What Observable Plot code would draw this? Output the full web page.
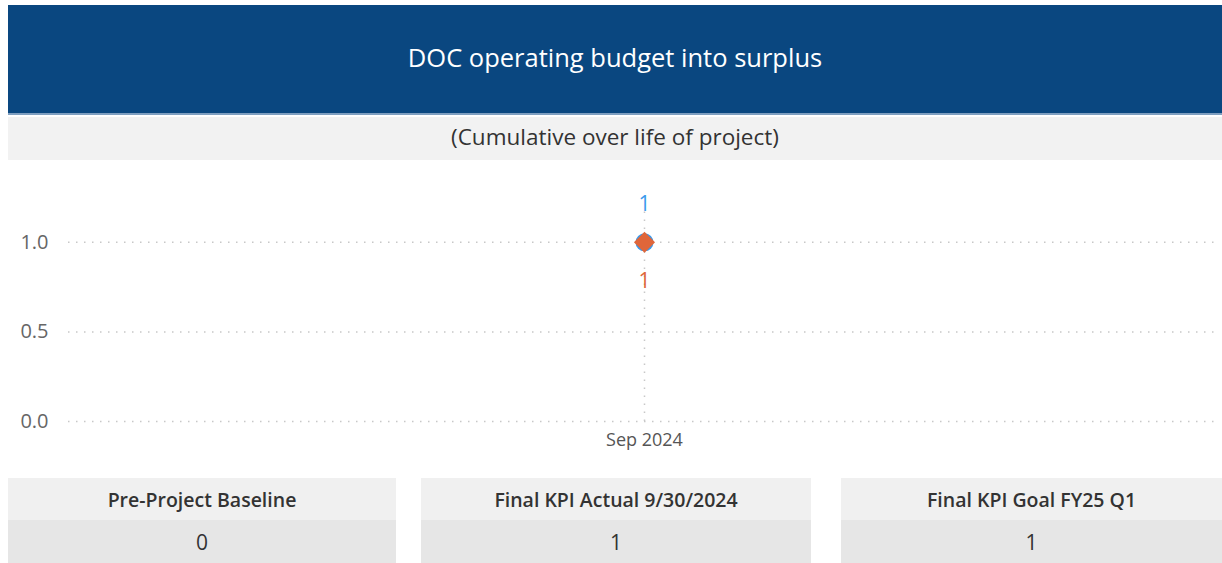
<!DOCTYPE html>
<html>
<head>
<meta charset="utf-8">
<script src="https://cdn.jsdelivr.net/npm/d3@7"></script>
<script src="https://cdn.jsdelivr.net/npm/@observablehq/plot@0.6"></script>
<style>
  html, body { margin: 0; padding: 0; background: #fff; }
  body { width: 1222px; height: 563px; position: relative; overflow: hidden; font-family: "Open Sans", "Noto Sans", sans-serif; }
  #title { position: absolute; left: 8px; top: 5px; width: 1214px; height: 110px; background: #0A4780; color: #fff;
           font-size: 25.5px; display: flex; align-items: center; justify-content: center; border-bottom: 2px solid #7f9fc0; box-sizing: border-box; padding-bottom: 4px; }
  #subtitle { position: absolute; left: 8px; top: 117px; width: 1214px; height: 43px; background: #F2F2F2; color: #333;
              font-size: 22.5px; display: flex; align-items: center; justify-content: center; padding-bottom: 5px; box-sizing: border-box; }
  #chart { position: absolute; left: 0; top: 160px; }
  .card { position: absolute; top: 478px; height: 85px; }
  .card .h { height: 42px; background: #F0F0F0; color: #333; font-weight: 600; font-size: 19.5px;
             display: flex; align-items: center; justify-content: center; }
  .card .v { height: 43px; background: #E6E6E6; color: #333; font-size: 21px;
             display: flex; align-items: center; justify-content: center; }
</style>
</head>
<body>
<div id="title"></div>
<div id="subtitle"></div>
<div id="chart"></div>
<div id="cards"></div>
<script>
const titleText = "DOC operating budget into surplus";
const subtitleText = "(Cumulative over life of project)";
const months = ["Sep 2024"];
const actualValues = [1];
const goalValues = [1];
const yTicks = [0, 0.5, 1.0];
const cardLabels = ["Pre-Project Baseline", "Final KPI Actual 9/30/2024", "Final KPI Goal FY25 Q1"];
const cardValues = ["0", "1", "1"];

document.getElementById("title").textContent = titleText;
document.getElementById("subtitle").textContent = subtitleText;

const data = months.map((m, i) => ({month: m, actual: actualValues[i], goal: goalValues[i]}));
const blue = "#3A9AEC";
const orange = "#E0663A";
const grid = "#c8c8c8";

const chart = Plot.plot({
  width: 1222,
  height: 300,
  marginLeft: 68,
  marginRight: 2,
  marginTop: 37,
  marginBottom: 39,
  style: { fontFamily: "'Open Sans', 'Noto Sans', sans-serif", background: "transparent", overflow: "visible" },
  x: { type: "point", domain: months, label: null },
  y: { domain: [0, 1.25], label: null, ticks: yTicks },
  marks: [
    Plot.gridY(yTicks, { stroke: grid, strokeOpacity: 1, strokeWidth: 1.5, strokeDasharray: "1.5,6.5" }),
    Plot.ruleX(months, { x: d => d, y1: 0, y2: 1.2, stroke: grid, strokeWidth: 1.5, strokeDasharray: "1.5,6.5" }),
    Plot.axisY({ ticks: yTicks, tickFormat: d3.format(".1f"), tickSize: 0, tickPadding: 20, fontSize: 20, color: "#666" }),
    Plot.axisX({ tickSize: 0, tickPadding: 12, fontSize: 18, color: "#555" }),
    Plot.dot(data, { x: "month", y: "goal", r: 9, fill: blue }),
    Plot.dot(data, { x: "month", y: "actual", r: 9.5, symbol: "diamond2", fill: orange }),
    Plot.text(data, { x: "month", y: "goal", text: d => String(d.goal), dy: -38, fill: blue, fontSize: 21 }),
    Plot.text(data, { x: "month", y: "actual", text: d => String(d.actual), dy: 39, fill: orange, fontSize: 21 })
  ]
});
document.getElementById("chart").appendChild(chart);

const cardPos = [{left: 8, width: 388}, {left: 421, width: 390}, {left: 841, width: 381}];
const cards = document.getElementById("cards");
cardLabels.forEach((lab, i) => {
  const c = document.createElement("div");
  c.className = "card";
  c.style.left = cardPos[i].left + "px";
  c.style.width = cardPos[i].width + "px";
  const h = document.createElement("div"); h.className = "h"; h.textContent = lab;
  const v = document.createElement("div"); v.className = "v"; v.textContent = cardValues[i];
  c.appendChild(h); c.appendChild(v);
  cards.appendChild(c);
});
</script>
</body>
</html>
